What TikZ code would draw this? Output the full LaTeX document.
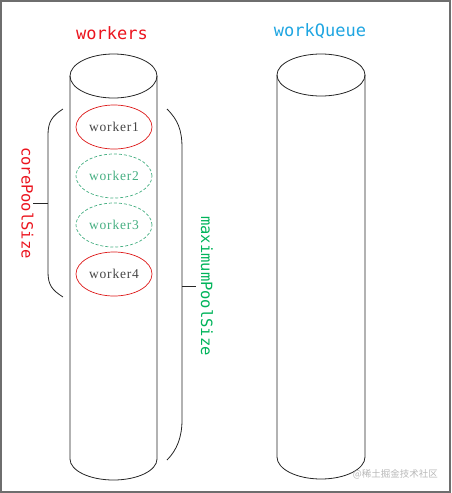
\documentclass[tikz,border=0pt]{standalone}
\usepackage{fontspec}
\setmainfont{Liberation Serif}
\newfontfamily\monofont{DejaVu Sans Mono}
\newfontfamily\cjkfont{Noto Sans CJK SC}
\newfontfamily\workerfont[LetterSpace=6]{Liberation Serif}
\usetikzlibrary{shapes.geometric}
\definecolor{titlered}{RGB}{235,20,30}
\definecolor{queueblue}{RGB}{30,165,225}
\definecolor{maxgreen}{RGB}{0,180,90}
\definecolor{dashgreen}{RGB}{70,175,130}
\definecolor{workergray}{RGB}{70,70,70}
\definecolor{framegray}{RGB}{110,110,110}
\tikzset{
  cyl/.style={draw=black!85, line width=0.8pt},
  bracestyle/.style={draw=black!85, line width=0.8pt},
  title/.style={font=\monofont\fontsize{17}{17}\selectfont, inner sep=0pt},
  sidelabel/.style={font=\monofont\fontsize{15.5}{15.5}\selectfont, inner sep=0pt, rotate=-90},
  workerbase/.style={ellipse, minimum width=76pt, minimum height=44pt, inner sep=0pt,
    font=\workerfont\fontsize{13.5}{13.5}\selectfont, line width=0.7pt},
  activeworker/.style={workerbase, draw=red!85!black!90, text=workergray},
  idleworker/.style={workerbase, draw=dashgreen, dashed, dash pattern=on 3pt off 2pt, text=dashgreen},
}
\begin{document}
\begin{tikzpicture}[x=1pt, y=-1pt]
\useasboundingbox (0,0) rectangle (451,493);
\draw[framegray, line width=2pt] (1,1) rectangle (450,492);

% titles
\node[title, text=titlered] (tw) at (112,33) {workers};
\node[title, text=queueblue] (tq) at (320,31) {workQueue};

% workers cylinder
\draw[cyl] (113.5,76) ellipse [x radius=43.5, y radius=22];
\draw[cyl] (70,76) -- (70,459) arc[start angle=180, end angle=0, x radius=43.5, y radius=21] -- (157,76);

% workQueue cylinder
\draw[cyl] (321,75) ellipse [x radius=44, y radius=21];
\draw[cyl] (277,75) -- (277,457) arc[start angle=180, end angle=0, x radius=44, y radius=22] -- (365,75);

% workers
\node[activeworker] (w1) at (114,127) {worker1};
\node[idleworker] (w2) at (114,176) {worker2};
\node[idleworker] (w3) at (114,225) {worker3};
\node[activeworker] (w4) at (114,274) {worker4};

% corePoolSize brace
\coordinate (cbT) at (63,109);
\coordinate (cbB) at (63,297);
\coordinate (cbM) at (48,203);
\draw[bracestyle] (cbT) .. controls (52,116) and (48,122) .. (48,135) -- (48,272)
  .. controls (48,285) and (52,290) .. (cbB);
\node[sidelabel, text=titlered] (core) at (27.5,203) {corePoolSize};
\draw[bracestyle] (cbM) -- (33,203);

% maximumPoolSize brace
\coordinate (mbT) at (167,109);
\coordinate (mbB) at (167,460);
\coordinate (mbM) at (182,286);
\draw[bracestyle] (mbT) .. controls (178,120) and (182,130) .. (182,148) -- (182,420)
  .. controls (182,437) and (177,450) .. (mbB);
\node[sidelabel, text=maxgreen] (maxp) at (207,286) {maximumPoolSize};
\draw[bracestyle] (mbM) -- (196,286);

% watermark
\node[anchor=east, inner sep=0pt, text=black!28, font=\cjkfont\fontsize{9.5}{9.5}\selectfont] (wm) at (438,474) {@稀土掘金技术社区};
\end{tikzpicture}
\end{document}
